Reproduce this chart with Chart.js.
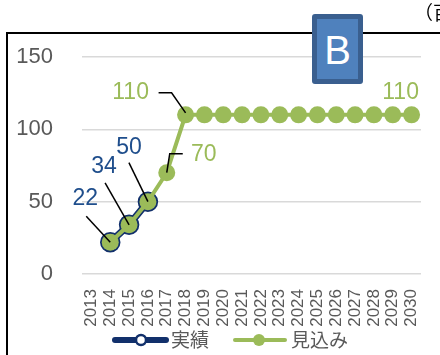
<!DOCTYPE html>
<html>
<head>
<meta charset="utf-8">
<script src="https://cdn.jsdelivr.net/npm/chart.js@4"></script>
<style>
  html, body { margin: 0; padding: 0; background: #fff; }
  #wrap { position: relative; width: 440px; height: 355px; overflow: hidden; }
  #frame { position: absolute; left: 6px; top: 32px; width: 460px; height: 360px; border: 2px solid #000; box-sizing: border-box; }
  #myChart { position: absolute; left: 0; top: 0; }
  #unit { position: absolute; left: 414px; top: -2px; font: 19px "Noto Sans CJK JP", sans-serif; color: #000; white-space: nowrap; }
  #badge { position: absolute; left: 312px; top: 14px; width: 51px; height: 70px; box-sizing: border-box;
           background: #4f81bd; border: 5px solid #3a5f8f; border-radius: 3px;
           color: #fff; font: 40px "Liberation Sans", Arial, sans-serif; text-align: center; line-height: 62px; }
</style>
</head>
<body>
<div id="wrap">
  <div id="frame"></div>
  <canvas id="myChart" width="440" height="355"></canvas>
  <div id="unit">（百万円）</div>
  <div id="badge">B</div>
</div>
<script>
// ######### datos
// ###########################################

const years = ['2013', '2014', '2015', '2016', '2017', '2018', '2019', '2020', '2021',
               '2022', '2023', '2024', '2025', '2026', '2027', '2028', '2029', '2030'];

const jisseki = [null, 22, 34, 50, null, null, null, null, null,
                 null, null, null, null, null, null, null, null, null];

const mikomi = [null, 22, 34, 50, 70, 110, 110, 110, 110,
                110, 110, 110, 110, 110, 110, 110, 110, 110];

const yTicks = [0, 50, 100, 150];

const azul = '#12306b';
const azulTexto = '#1f4e8c';
const verde = '#9bbb59';
const gris = '#595959';

// etiquetas de valor: dataset, indice, desplazamiento del texto y linea guia
const etiquetas = [
    { ds: 0, i: 1, dx: -25, dy: -44, guia: [[-24, -26], [0, 0]] },
    { ds: 0, i: 2, dx: -25, dy: -58, guia: [[-24, -42], [0, 0]] },
    { ds: 0, i: 3, dx: -19, dy: -54, guia: [[-19, -39], [0, 0]] },
    { ds: 1, i: 4, dx: 37, dy: -18, guia: [[0, 0], [3, -19], [16, -19]] },
    { ds: 1, i: 5, dx: -55, dy: -22, guia: [[-27, -22], [-14, -22], [0, -2]] },
    { ds: 1, i: 17, dx: -11, dy: -22, guia: null }
];


// ######### plugin - etiquetas y leyenda
// ###########################################

const etiquetasPlugin = {
    id: 'etiquetas',
    afterDatasetsDraw(chart) {
        const ctx = chart.ctx;
        ctx.save();
        etiquetas.forEach((e) => {
            const punto = chart.getDatasetMeta(e.ds).data[e.i];
            const valor = chart.data.datasets[e.ds].data[e.i];
            if (e.guia) {
                ctx.strokeStyle = '#000';
                ctx.lineWidth = 1.5;
                ctx.beginPath();
                e.guia.forEach((p, k) => {
                    if (k === 0) ctx.moveTo(punto.x + p[0], punto.y + p[1]);
                    else ctx.lineTo(punto.x + p[0], punto.y + p[1]);
                });
                ctx.stroke();
            }
            ctx.fillStyle = e.ds === 0 ? azulTexto : verde;
            ctx.font = '23px "Liberation Sans", Arial, sans-serif';
            ctx.textAlign = 'center';
            ctx.textBaseline = 'middle';
            ctx.fillText(String(valor), punto.x + e.dx, punto.y + e.dy);
        });
        ctx.restore();
    },
    afterDraw(chart) {
        // leyenda: linea con marcador en el centro
        const ctx = chart.ctx;
        const y = 340;
        ctx.save();
        ctx.lineCap = 'round';

        ctx.strokeStyle = azul;
        ctx.lineWidth = 6;
        ctx.beginPath();
        ctx.moveTo(115, y);
        ctx.lineTo(166, y);
        ctx.stroke();
        ctx.fillStyle = '#fff';
        ctx.lineWidth = 2.5;
        ctx.beginPath();
        ctx.arc(141, y, 5, 0, Math.PI * 2);
        ctx.fill();
        ctx.stroke();

        ctx.strokeStyle = verde;
        ctx.lineWidth = 4;
        ctx.beginPath();
        ctx.moveTo(235, y);
        ctx.lineTo(285, y);
        ctx.stroke();
        ctx.fillStyle = verde;
        ctx.beginPath();
        ctx.arc(259, y, 6, 0, Math.PI * 2);
        ctx.fill();

        ctx.fillStyle = gris;
        ctx.font = '19px "Noto Sans CJK JP", sans-serif';
        ctx.textAlign = 'left';
        ctx.textBaseline = 'middle';
        ctx.fillText(chart.data.datasets[0].label, 171, y);
        ctx.fillText(chart.data.datasets[1].label, 291, y);
        ctx.restore();
    }
};


// ######### grafico
// ###########################################

const myChart = document.getElementById('myChart');

if (myChart) {
    var ctx = myChart.getContext('2d');
    var chart = new Chart(ctx, {
        type: 'line',
        data: {
            labels: years,
            datasets: [{
                label: '実績',
                data: jisseki,
                borderColor: azul,
                borderWidth: 7,
                pointRadius: 9,
                pointBorderWidth: 2.5,
                pointBackgroundColor: '#fff',
                pointBorderColor: azul,
                order: 2
            },
            {
                label: '見込み',
                data: mikomi,
                borderColor: verde,
                borderWidth: 4,
                pointRadius: 8.5,
                pointBorderWidth: 0,
                pointBackgroundColor: verde,
                pointBorderColor: verde,
                order: 1
            }]
        },
        options: {
            responsive: false,
            animation: false,
            devicePixelRatio: 1,
            layout: { padding: { top: 57, right: 19, left: 0, bottom: 0 } },
            plugins: {
                legend: { display: false },
                tooltip: { enabled: false }
            },
            scales: {
                x: {
                    offset: true,
                    grid: { display: false },
                    border: { display: false },
                    ticks: {
                        minRotation: 90,
                        maxRotation: 90,
                        autoSkip: false,
                        padding: 7,
                        color: gris,
                        font: { family: '"Liberation Sans", Arial, sans-serif', size: 17 }
                    },
                    afterFit(scale) { scale.height = 81; }
                },
                y: {
                    min: 0,
                    max: 150,
                    afterBuildTicks(scale) { scale.ticks = yTicks.map((v) => ({ value: v })); },
                    grid: { color: '#d9d9d9', lineWidth: 1.5, drawTicks: false },
                    border: { display: false },
                    ticks: {
                        padding: 29,
                        color: gris,
                        font: { family: '"Liberation Sans", Arial, sans-serif', size: 22 }
                    },
                    afterFit(scale) { scale.width = 82; }
                }
            }
        },
        plugins: [etiquetasPlugin]
    });
}
</script>
</body>
</html>
